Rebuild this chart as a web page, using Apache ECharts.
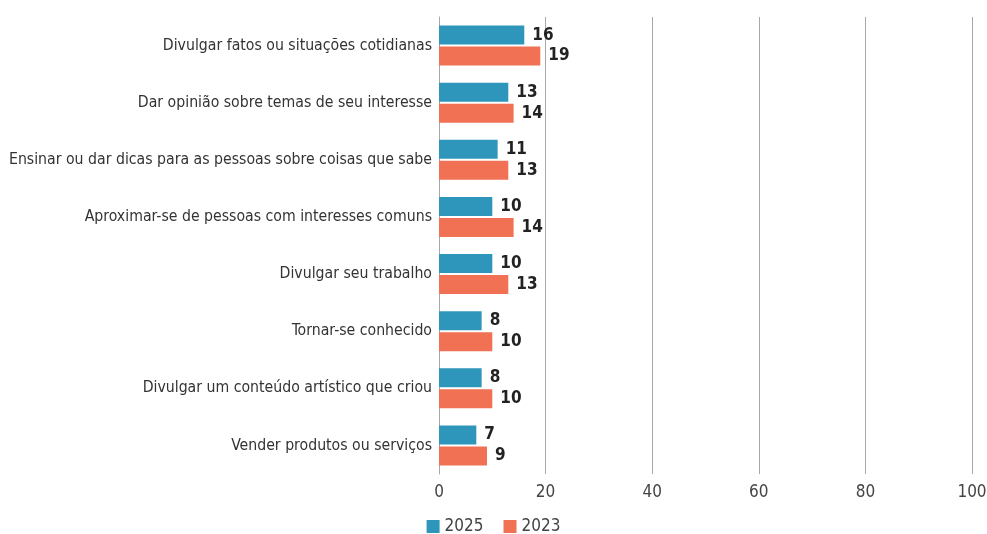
<!DOCTYPE html>
<html><head><meta charset="utf-8">
<script src="https://cdn.jsdelivr.net/npm/echarts@6/dist/echarts.min.js"></script>
<style>html,body{margin:0;padding:0;background:#fff}#c{width:987px;height:534px}</style>
</head><body><div id="c"></div>
<script>
const categories = [
  "Divulgar fatos ou situações cotidianas",
  "Dar opinião sobre temas de seu interesse",
  "Ensinar ou dar dicas para as pessoas sobre coisas que sabe",
  "Aproximar-se de pessoas com interesses comuns",
  "Divulgar seu trabalho",
  "Tornar-se conhecido",
  "Divulgar um conteúdo artístico que criou",
  "Vender produtos ou serviços"
];
const values2025 = [16, 13, 11, 10, 10, 8, 8, 7];
const values2023 = [19, 14, 13, 14, 13, 10, 10, 9];
const xTicks = [0, 20, 40, 60, 80, 100];

const FONT = '"Liberation Sans Narrow", "DejaVu Sans Condensed", sans-serif';
const chart = echarts.init(document.getElementById('c'));
const lbl = {show:true, position:'right', distance:8, color:'#222', fontWeight:'bold', fontSize:17, fontFamily:FONT};
chart.setOption({
  animation:false,
  textStyle:{fontFamily:FONT},
  grid:{left:439, right:15, top:17, bottom:60, containLabel:false, outerBoundsMode:'none'},
  legend:{top:518, left:'center', itemWidth:13, itemHeight:13, itemGap:20, icon:'rect', padding:0,
    textStyle:{fontSize:17, color:'#444', fontFamily:FONT}, data:['2025','2023']},
  xAxis:{type:'value', min:xTicks[0], max:xTicks[xTicks.length-1], interval:20,
    axisLine:{show:false}, axisTick:{show:false},
    splitLine:{show:true, lineStyle:{color:'#a8a8a8', width:1}},
    axisLabel:{color:'#444', fontSize:17, margin:10, fontFamily:FONT}},
  yAxis:{type:'category', data:categories, inverse:true,
    axisLine:{show:true, lineStyle:{color:'#a8a8a8'}}, axisTick:{show:false},
    axisLabel:{color:'#333', fontSize:15.7, margin:7, fontFamily:FONT}},
  series:[
    {name:'2025', type:'bar', data:values2025, itemStyle:{color:'#2E96BA'}, barWidth:19, barGap:'10%', label:lbl},
    {name:'2023', type:'bar', data:values2023, itemStyle:{color:'#F07153'}, barWidth:19, barGap:'10%', label:lbl}
  ]
});
</script></body></html>
